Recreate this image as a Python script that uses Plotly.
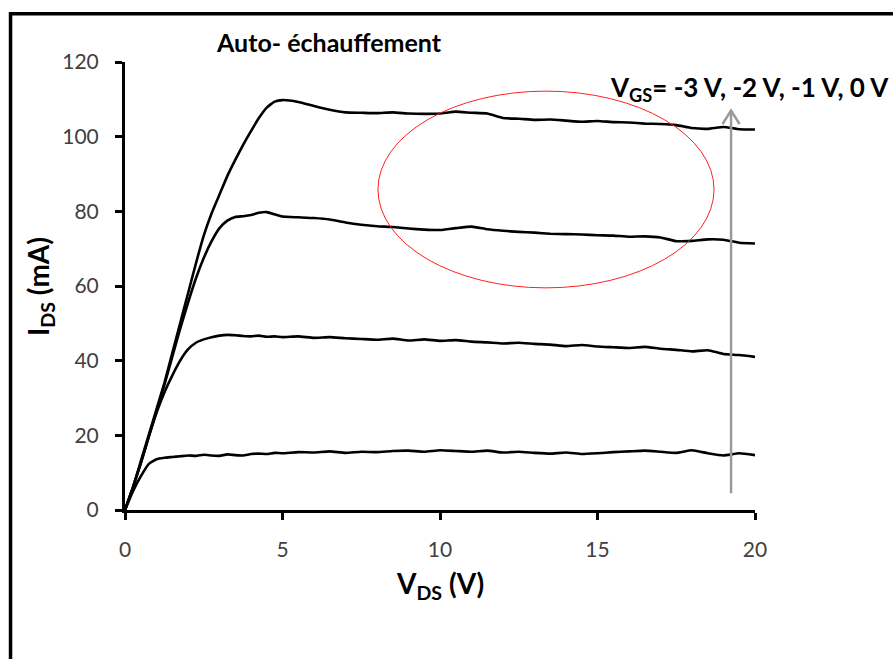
import plotly.graph_objects as go

# Drain voltage sweep (V)
vds = [0, 0.25, 0.5, 0.75, 1, 1.25, 1.5, 1.75, 2, 2.25, 2.5, 2.75, 3, 3.25, 3.5,
       3.75, 4, 4.25, 4.5, 4.75, 5, 5.5, 6, 6.5, 7, 7.5, 8, 8.5, 9, 9.5, 10,
       10.5, 11, 11.5, 12, 12.5, 13, 13.5, 14, 14.5, 15, 15.5, 16, 16.5, 17,
       17.5, 18, 18.5, 19, 19.5, 20]

# Drain current (mA) for each gate voltage
ids_vgs_m3 = [0, 5, 9, 12.3, 13.6, 14.0, 14.2, 14.4, 14.6, 14.5, 14.8, 14.6, 14.5,
              14.9, 14.7, 14.6, 15.0, 15.1, 15.0, 15.3, 15.2, 15.5, 15.4, 15.7,
              15.3, 15.6, 15.5, 15.8, 15.9, 15.6, 16.0, 15.8, 15.6, 15.9, 15.4,
              15.6, 15.3, 15.1, 15.4, 15.0, 15.2, 15.5, 15.7, 15.9, 15.6, 15.3,
              16.0, 15.2, 14.6, 15.2, 14.7]
ids_vgs_m2 = [0, 6, 12.5, 19.5, 26, 31.5, 36, 40, 43.0, 44.8, 45.7, 46.3, 46.7,
              46.9, 46.8, 46.6, 46.5, 46.7, 46.4, 46.5, 46.3, 46.5, 46.1, 46.3,
              46.0, 45.8, 45.6, 45.9, 45.4, 45.7, 45.3, 45.5, 45.1, 44.9, 44.6,
              44.8, 44.5, 44.3, 43.9, 44.2, 43.8, 43.6, 43.4, 43.7, 43.2, 42.9,
              42.5, 42.8, 41.8, 41.5, 41.0]
ids_vgs_m1 = [0, 6, 12.5, 19.5, 26.5, 33.5, 41, 48.5, 55.5, 62, 67.5, 72, 75.5,
              77.5, 78.5, 78.7, 79, 79.6, 79.8, 79.2, 78.6, 78.4, 78.2, 77.8,
              77.0, 76.4, 76.0, 75.8, 75.4, 75.1, 75.0, 75.5, 75.9, 75.2, 74.8,
              74.5, 74.3, 74.0, 73.9, 73.8, 73.6, 73.5, 73.2, 73.3, 73.0, 72.0,
              72.1, 72.5, 72.4, 71.6, 71.4]
ids_vgs_0 = [0, 6, 13, 20, 27, 34, 42, 50, 58, 66, 73.5, 79.5, 84.5, 89.5, 93.8, 97.8,
             101.5, 105, 107.8, 109.4, 109.8, 109.3, 108.2, 107.2, 106.5, 106.4,
             106.3, 106.5, 106.2, 106.1, 106.2, 106.7, 106.4, 106.2, 105.0,
             104.8, 104.5, 104.6, 104.3, 104.0, 104.2, 103.9, 103.8, 103.5,
             103.4, 103.1, 102.3, 102.1, 102.6, 102.0, 101.9]

curves = [ids_vgs_m3, ids_vgs_m2, ids_vgs_m1, ids_vgs_0]

# Gate-voltage arrow and highlighted self-heating region
arrow_x = 19.24
arrow_y = [4.5, 107.0]
ellipse_x = [8.03, 18.7]
ellipse_y = [59.5, 112.2]

x_ticks = [0, 5, 10, 15, 20]
y_ticks = [0, 20, 40, 60, 80, 100, 120]

FONT = "Lato"

fig = go.Figure()
for ids in curves:
    fig.add_trace(go.Scatter(x=vds, y=ids, mode="lines",
                             line=dict(color="black", width=2.6, shape="spline",
                                       smoothing=0.4),
                             showlegend=False, hoverinfo="skip"))

# red ellipse
fig.add_shape(type="circle", xref="x", yref="y",
              x0=ellipse_x[0], x1=ellipse_x[1], y0=ellipse_y[0], y1=ellipse_y[1],
              line=dict(color="#ff2020", width=1))

# grey arrow: shaft + open head
head_dx = 0.27
head_dy = 3.6
fig.add_shape(type="line", xref="x", yref="y",
              x0=arrow_x, x1=arrow_x, y0=arrow_y[0], y1=arrow_y[1],
              line=dict(color="#9a9a9a", width=2.5))
fig.add_shape(type="path", xref="x", yref="y",
              path=(f"M {arrow_x - head_dx},{arrow_y[1] - head_dy} "
                    f"L {arrow_x},{arrow_y[1]} L {arrow_x + head_dx},{arrow_y[1] - head_dy}"),
              line=dict(color="#9a9a9a", width=2.5))

# outer frame (extends beyond the right and bottom edges)
fig.add_shape(type="path", xref="paper", yref="paper",
              path="M 1.4,1.1075 L -0.1817,1.1075 L -0.1817,-0.5",
              line=dict(color="black", width=3.5))

fig.add_annotation(xref="paper", yref="paper", x=0.141, y=1.045,
                   xanchor="left", yanchor="middle", showarrow=False,
                   text="<b>Auto- échauffement</b>",
                   font=dict(family=FONT, size=25, color="black"))
fig.add_annotation(xref="paper", yref="paper", x=0.766, y=0.94,
                   xanchor="left", yanchor="middle", showarrow=False,
                   text="<b>V<sub>GS</sub>= -3 V, -2 V, -1 V, 0 V</b>",
                   font=dict(family=FONT, size=26, color="black"))
fig.add_annotation(xref="paper", yref="paper", x=0.5, y=-0.168,
                   xanchor="center", yanchor="middle", showarrow=False,
                   text="<b>V<sub>DS</sub> (V)</b>",
                   font=dict(family=FONT, size=28, color="black"))
fig.add_annotation(xref="paper", yref="paper", x=-0.135, y=0.5,
                   xanchor="center", yanchor="middle", showarrow=False,
                   textangle=-90,
                   text="<b>I<sub>DS</sub> (mA)</b>",
                   font=dict(family=FONT, size=28, color="black"))

axis_common = dict(showgrid=False, zeroline=False, showline=True,
                   linecolor="black", linewidth=3, ticks="outside",
                   ticklen=7, tickwidth=3, tickcolor="black",
                   tickfont=dict(family=FONT, size=21, color="#404040"))

fig.update_xaxes(range=[0, 20], tickvals=x_ticks, ticklabelstandoff=12,
                 **axis_common)
fig.update_yaxes(range=[0, 120], tickvals=y_ticks, ticklabelstandoff=12,
                 **axis_common)

fig.update_layout(width=893, height=659,
                  margin=dict(l=125, r=138, t=62, b=149),
                  plot_bgcolor="white", paper_bgcolor="white")

fig.write_html("out.html")
